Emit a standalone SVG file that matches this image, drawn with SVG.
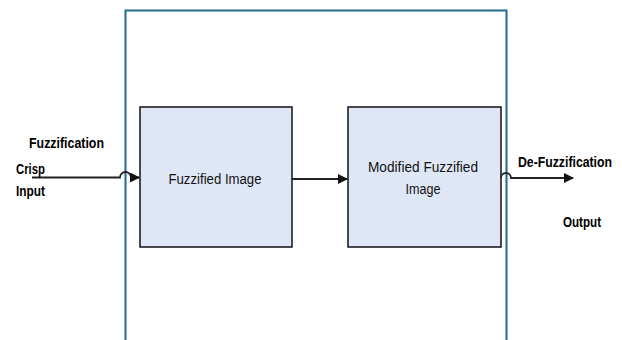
<svg xmlns="http://www.w3.org/2000/svg" width="622" height="340" viewBox="0 0 622 340">
<style>
.lbl{font-family:"Liberation Sans",Arial,sans-serif;font-weight:bold;font-size:14px;fill:#000}
.box{fill:#dfe7f6;stroke:#111;stroke-width:1.5}
.btxt{font-family:"Liberation Sans",Arial,sans-serif;font-size:14px;fill:#111;text-anchor:middle}
.conn{fill:none;stroke:#222;stroke-width:1.8}
</style>
<defs>
<marker id="ah" markerWidth="10" markerHeight="10" refX="9" refY="5" orient="auto" markerUnits="userSpaceOnUse">
<path d="M0,0 L10,5 L0,10 Z" fill="#111"/>
</marker>
</defs>
<rect width="622" height="340" fill="#fff"/>
<g id="frame">
<path d="M125.5,345 V10.5 H506.5 V345" fill="none" stroke="#1f6b8a" stroke-width="2"/>
</g>
<g id="node-fuzzified">
<rect class="box" x="140" y="107" width="152" height="140"/>
<text class="btxt" x="215" y="184" textLength="93" lengthAdjust="spacingAndGlyphs">Fuzzified Image</text>
</g>
<g id="node-modified">
<rect class="box" x="348" y="107" width="153" height="140"/>
<text class="btxt" x="423" y="172" textLength="110" lengthAdjust="spacingAndGlyphs">Modified Fuzzified</text>
<text class="btxt" x="423" y="194" textLength="35" lengthAdjust="spacingAndGlyphs">Image</text>
</g>
<g id="connectors">
<path class="conn" d="M32,177.5 H120 A5.5,5.5 0 0 1 131,177.5 H139" marker-end="url(#ah)"/>
<path class="conn" d="M292,179 H347" marker-end="url(#ah)"/>
<path class="conn" d="M501,178 A5,5 0 0 1 511,178 H573" marker-end="url(#ah)"/>
</g>
<g id="labels">
<text class="lbl" x="29" y="148" textLength="75" lengthAdjust="spacingAndGlyphs">Fuzzification</text>
<text class="lbl" x="16" y="174" textLength="29" lengthAdjust="spacingAndGlyphs">Crisp</text>
<text class="lbl" x="16" y="196" textLength="29" lengthAdjust="spacingAndGlyphs">Input</text>
<text class="lbl" x="518" y="167" textLength="94" lengthAdjust="spacingAndGlyphs">De-Fuzzification</text>
<text class="lbl" x="563" y="227" textLength="38" lengthAdjust="spacingAndGlyphs">Output</text>
</g>
</svg>
